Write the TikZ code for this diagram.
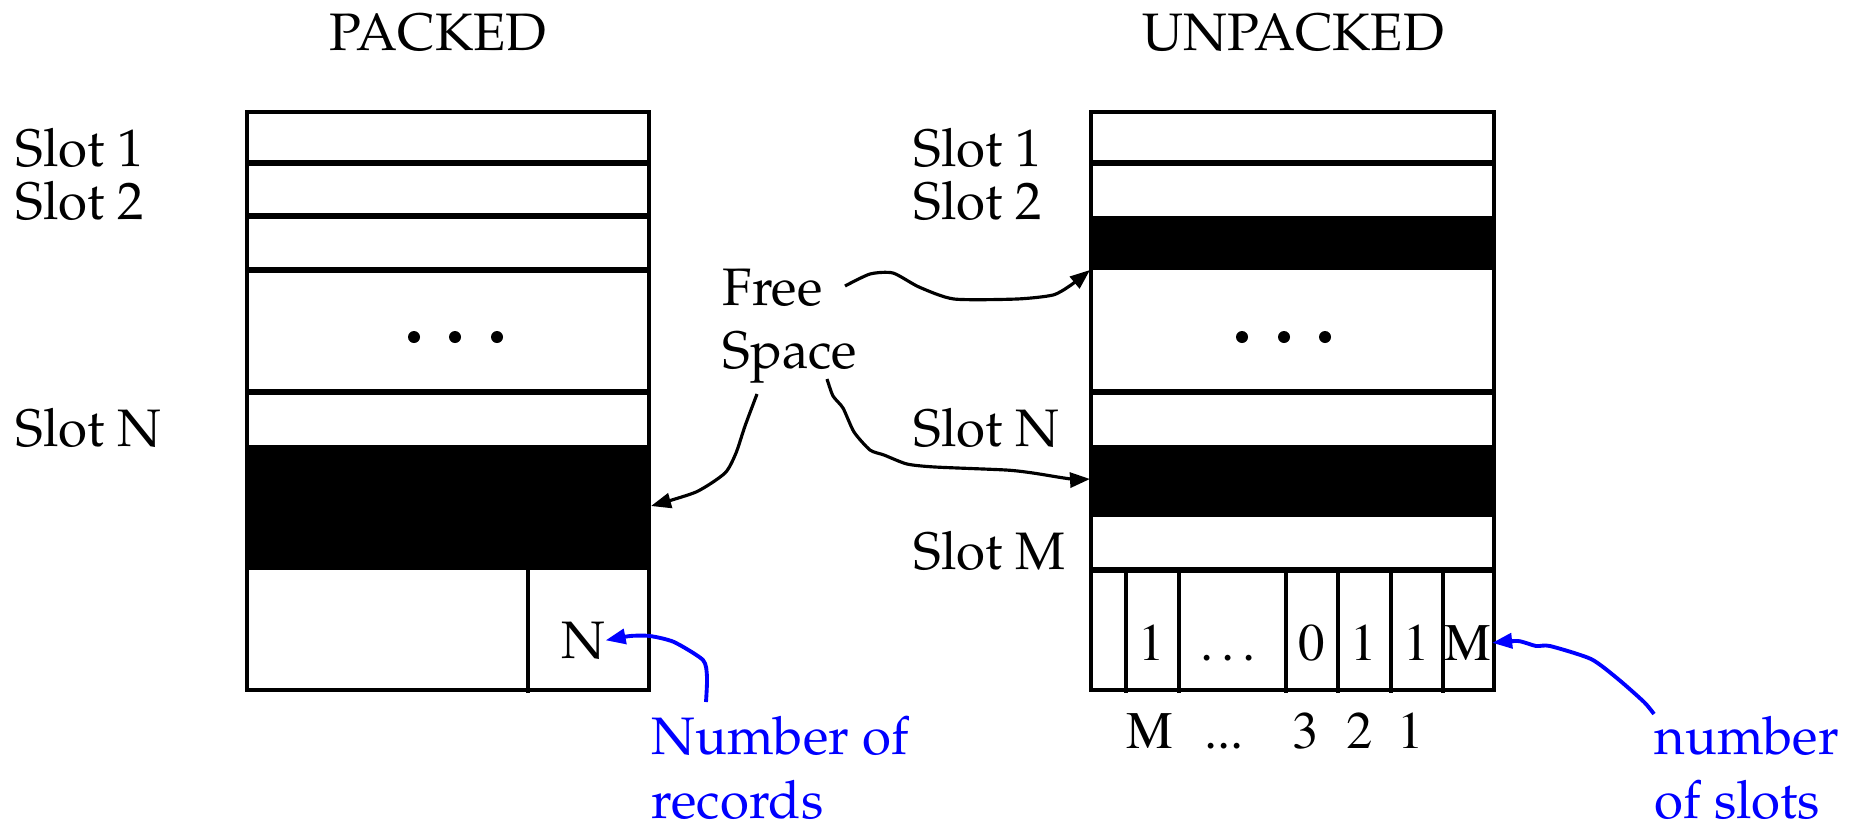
\documentclass[tikz,border=0pt]{standalone}
\usepackage[T1]{fontenc}
\usepackage{mathpazo}
\usepackage{xcolor}
\usetikzlibrary{arrows.meta,
	calc,
	positioning}
\newcommand{\tightdots}{...}
\tikzstyle{lbl}=[inner sep=0, font=\fontsize{15}{18}\selectfont]
\tikzstyle{bit}=[inner sep=0, anchor=base, font=\fontsize{15}{18}\fontfamily{ptm}\selectfont]
\tikzstyle{slot}=[draw, line width=1pt]
\tikzstyle{sep}=[line width=1.5pt]
\tikzstyle{used}=[fill=black]
\tikzstyle{sarrow}=[-{Triangle[length=2mm, width=1.5mm]}, line width=0.9pt]
\tikzstyle{barrow}=[sarrow, blue, line width=1.1pt]

\begin{document}
\begin{tikzpicture}[x=0.1mm, y=-0.1mm]
            \useasboundingbox (0,0) rectangle (1855,830);
            \node[lbl, anchor=base] (packed) at (438,50) {PACKED};
            \node[lbl, anchor=base] (unpacked) at (1293,50) {UNPACKED};

            % packed page
            \fill[used] (247,445) rectangle (649,570);
            \draw[slot] (247,112) rectangle (649,690);
            \foreach \y in {163,216,270,392}
                \draw[sep] (247,\y) -- (649,\y);
            \draw[slot] (528,570) -- (528,693);
            \foreach \x in {414,455,497}
                \fill (\x,337) circle (0.6mm);
            \foreach \y/\t/\n in {166/Slot 1/1, 219/Slot 2/2, 446/Slot N/n}
                \node[lbl, anchor=base west] (pslot\n) at (15,\y) {\t};
            \node[lbl, anchor=base] (pcount) at (583,658) {N};

            % unpacked page
            \fill[used] (1091,216) rectangle (1494,270);
            \fill[used] (1091,445) rectangle (1494,517);
            \draw[slot] (1091,112) rectangle (1494,690);
            \foreach \y in {163,392,570}
                \draw[sep] (1091,\y) -- (1494,\y);
            \foreach \x in {1126,1179,1286,1338,1391,1443}
                \draw[slot] (\x,570) -- (\x,693);
            \foreach \x in {1242,1284,1325}
                \fill (\x,337) circle (0.6mm);
            \foreach \y/\t/\n in {166/Slot 1/1, 219/Slot 2/2, 446/Slot N/n, 569/Slot M/m}
                \node[lbl, anchor=base west] (uslot\n) at (913,\y) {\t};
            \foreach \x/\b [count=\i] in {1152/1, 1232/\dots, 1312/0, 1364/1, 1417/1, 1468/M}
                \node[bit] (bit\i) at (\x,660) {\b};
            \foreach \x/\b [count=\i] in {1150/M, 1224/\tightdots, 1306/3, 1360/2, 1411/1}
                \node[bit] (idx\i) at (\x,748) {\b};

            % free space
            \node[lbl, align=left, anchor=north west] (freesp) at (722,268) {Free\\Space};
            \coordinate (fs1) at (845,286);
            \coordinate (fs2) at (757,394);
            \coordinate (fs3) at (827,379);
            \coordinate (pfree) at (651,506);
            \coordinate (ufree1) at (1090,270);
            \coordinate (ufree2) at (1090,479);
            \draw[sarrow] plot[smooth, tension=0.4] coordinates {(fs1) (870,274) (893,273) (919,287)
                (954,299) (1017,299) (1053,295) (1071,285) (ufree1)};
            \draw[sarrow] plot[smooth, tension=0.4] coordinates {(fs2) (745,426) (736,453) (725,473)
                (696,492) (pfree)};
            \draw[sarrow] plot[smooth, tension=0.4] coordinates {(fs3) (833,396) (843,408) (854,432)
                (870,450) (884,455) (907,464) (935,467) (1006,470) (1033,473) (1071,479) (ufree2)};

            % counters
            \node[lbl, blue, align=left, anchor=north west] (nrec) at (651,716) {Number of\\records};
            \node[lbl, blue, align=left, anchor=north west] (nslot) at (1654,716) {number\\of slots};
            \coordinate (nr1) at (706,702);
            \coordinate (ns1) at (1654,714);
            \draw[barrow] plot[smooth, tension=0.4] coordinates {(nr1) (707,677) (703,660) (674,642)
                (650,636) (630,636) (pcount.east)};
            \draw[barrow] plot[smooth, tension=0.4] coordinates {(ns1) (1644,702) (1618,679) (1591,659)
                (1550,646) (1536,646) (1518,641) (bit6.east)};
        \end{tikzpicture}
\end{document}
